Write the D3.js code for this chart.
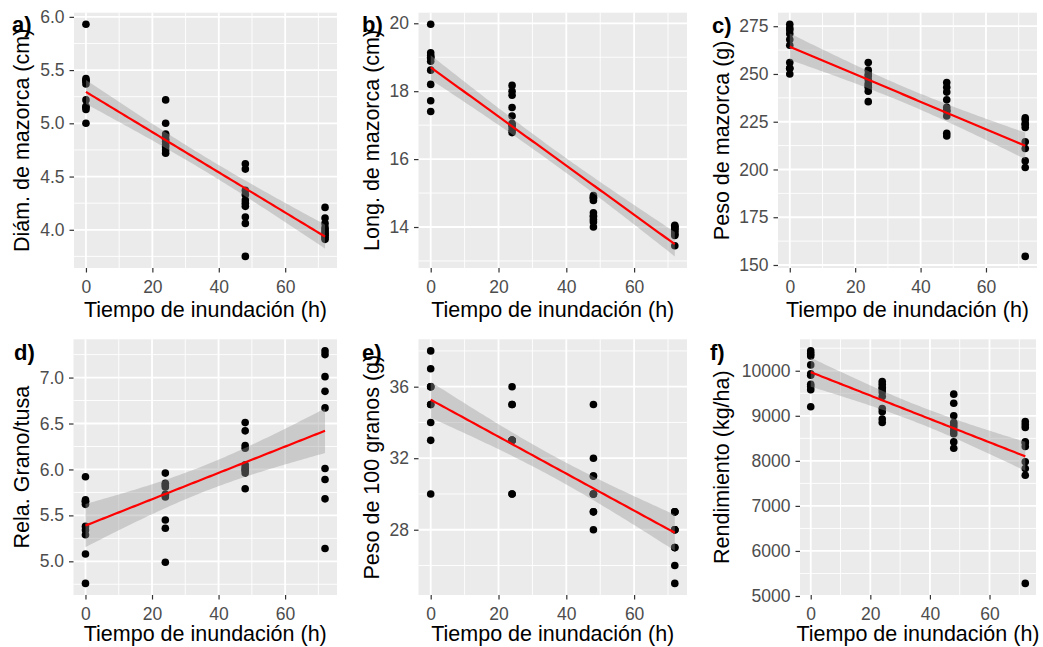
<!DOCTYPE html>
<html><head><meta charset="utf-8">
<script src="https://cdn.jsdelivr.net/npm/d3@7"></script>
<style>
body{margin:0;background:#fff;}
svg{display:block;font-family:"Liberation Sans",Arial,sans-serif;}
</style>
</head><body>
<svg id="chart" width="1043" height="647"></svg>
<script>
// ---------- data ----------
const hours = [0, 24, 48, 72];
const xTicks = [0, 20, 40, 60];
const xTitle = "Tiempo de inundación (h)";

const tags = ["a)", "b)", "c)", "d)", "e)", "f)"];
const yTitles = ["Diám. de mazorca (cm)", "Long. de mazorca (cm)", "Peso de mazorca (g)",
                 "Rela. Grano/tusa", "Peso de 100 granos (g)", "Rendimiento (kg/ha)"];

const diamMazorca = [
  [5.93, 5.42, 5.40, 5.40, 5.37, 5.22, 5.16, 5.15, 5.13, 5.00],
  [5.22, 5.00, 4.90, 4.88, 4.85, 4.83, 4.80, 4.78, 4.75, 4.72],
  [4.62, 4.57, 4.37, 4.33, 4.28, 4.25, 4.22, 4.12, 4.06, 3.75],
  [4.21, 4.11, 4.06, 4.02, 4.00, 3.98, 3.96, 3.95, 3.93, 3.91]
];
const longMazorca = [
  [19.97, 19.13, 19.05, 19.00, 18.98, 18.88, 18.62, 18.20, 17.72, 17.40],
  [18.17, 18.00, 17.88, 17.52, 17.27, 17.05, 17.00, 16.95, 16.85, 16.78],
  [14.93, 14.88, 14.85, 14.78, 14.42, 14.33, 14.30, 14.22, 14.15, 14.00],
  [14.05, 14.02, 13.98, 13.97, 13.92, 13.88, 13.82, 13.78, 13.75, 13.45]
];
const pesoMazorca = [
  [276, 274, 273, 271, 268, 265, 256, 253, 253, 250],
  [256, 252, 250, 249, 247, 245, 244, 243, 241, 235.5],
  [245.5, 243, 240.5, 236.5, 232.5, 231, 230.5, 228, 219, 217.5],
  [227, 226, 224, 223.5, 222, 214.5, 211, 204.5, 201, 154.5]
];
const relaGranoTusa = [
  [5.92, 5.67, 5.65, 5.65, 5.62, 5.38, 5.34, 5.29, 5.08, 4.76],
  [5.96, 5.85, 5.83, 5.81, 5.73, 5.72, 5.70, 5.45, 5.36, 4.99],
  [6.51, 6.42, 6.26, 6.23, 6.05, 6.02, 6.00, 5.99, 5.96, 5.79],
  [7.29, 7.25, 7.01, 6.85, 6.67, 6.01, 5.89, 5.68, 5.14]
];
const peso100Granos = [
  [38, 37, 36, 36, 36, 35, 35, 34, 33, 30],
  [36, 35, 35, 33, 33, 33, 33, 33, 30, 30],
  [35, 32, 31, 31, 30, 30, 30, 29, 29, 28],
  [29, 29, 29, 28, 28, 28, 27, 27, 26, 25]
];
const rendimiento = [
  [10440, 10380, 10330, 10130, 9930, 9900, 9700, 9650, 9580, 9200],
  [9760, 9700, 9630, 9600, 9530, 9430, 9160, 9090, 8930, 8850],
  [9480, 9280, 9000, 8850, 8800, 8750, 8670, 8600, 8420, 8280],
  [8870, 8800, 8740, 8420, 8400, 8320, 7980, 7830, 7680, 5280]
];

const yTicksA = [4.0, 4.5, 5.0, 5.5, 6.0];
const yTicksB = [14, 16, 18, 20];
const yTicksC = [150, 175, 200, 225, 250, 275];
const yTicksD = [5.0, 5.5, 6.0, 6.5, 7.0];
const yTicksE = [28, 32, 36];
const yTicksF = [5000, 6000, 7000, 8000, 9000, 10000];

const seriesList = [diamMazorca, longMazorca, pesoMazorca, relaGranoTusa, peso100Granos, rendimiento];
const tickList = [yTicksA, yTicksB, yTicksC, yTicksD, yTicksE, yTicksF];
const fmtList = [".1f", "d", "d", ".1f", "d", "d"];

// ---------- layout (positions only) ----------
const layout = [
  {box: [74, 12.7, 337, 268],     titleX: 29,    tagX: 12,  tagY: 32,  xTitleY: 316.7},
  {box: [418.5, 12.7, 687, 268],  titleX: 378.5, tagX: 362, tagY: 32,  xTitleY: 316.7},
  {box: [778, 12.7, 1037, 268],   titleX: 728.5, tagX: 712, tagY: 33,  xTitleY: 316.7},
  {box: [73.5, 339.3, 337, 595],  titleX: 29,    tagX: 14,  tagY: 360, xTitleY: 641},
  {box: [418.5, 339.3, 687, 595], titleX: 378.5, tagX: 362, tagY: 360, xTitleY: 641},
  {box: [800, 339.3, 1036, 595],  titleX: 729,   tagX: 710, tagY: 360, xTitleY: 641}
];

const svg = d3.select("#chart");
svg.append("rect").attr("width", 1043).attr("height", 647).attr("fill", "#fff");

function lmBand(xs, ys) {
  const n = xs.length, mx = d3.mean(xs), my = d3.mean(ys);
  let sxx = 0, sxy = 0;
  for (let i = 0; i < n; i++) { sxx += (xs[i] - mx) ** 2; sxy += (xs[i] - mx) * (ys[i] - my); }
  const b = sxy / sxx, a = my - b * mx;
  let sse = 0;
  for (let i = 0; i < n; i++) sse += (ys[i] - a - b * xs[i]) ** 2;
  const df = n - 2, s = Math.sqrt(sse / df), z = 1.959964;
  const t = z + (z ** 3 + z) / (4 * df) + (5 * z ** 5 + 16 * z ** 3 + 3 * z) / (96 * df * df);
  const x0 = d3.min(xs), x1 = d3.max(xs);
  return d3.range(80).map(i => {
    const x = x0 + (x1 - x0) * i / 79;
    const yh = a + b * x;
    const se = s * Math.sqrt(1 / n + (x - mx) ** 2 / sxx);
    return {x, y: yh, lo: yh - t * se, hi: yh + t * se};
  });
}

seriesList.forEach((groups, pi) => {
  const L = layout[pi];
  const [left, top, right, bottom] = L.box;
  const pts = [];
  groups.forEach((vals, gi) => vals.forEach(v => pts.push({x: hours[gi], y: v})));
  const band = lmBand(pts.map(d => d.x), pts.map(d => d.y));

  const xr = d3.extent(pts, d => d.x);
  const xpad = (xr[1] - xr[0]) * 0.05;
  const x = d3.scaleLinear().domain([xr[0] - xpad, xr[1] + xpad]).range([left, right]);

  const ymin = Math.min(d3.min(pts, d => d.y), d3.min(band, d => d.lo));
  const ymax = Math.max(d3.max(pts, d => d.y), d3.max(band, d => d.hi));
  const ypad = (ymax - ymin) * 0.05;
  const y = d3.scaleLinear().domain([ymin - ypad, ymax + ypad]).range([bottom, top]);

  const g = svg.append("g");
  g.append("rect").attr("x", left).attr("y", top).attr("width", right - left)
    .attr("height", bottom - top).attr("fill", "#EBEBEB");

  const yt = tickList[pi];
  const step = yt[1] - yt[0];
  const yDom = y.domain();
  const yMinor = [yt[0] - step / 2].concat(yt.map(v => v + step / 2)).filter(v => v > yDom[0] && v < yDom[1]);
  const xMinor = [xTicks[0] - 10].concat(xTicks.map(v => v + 10)).filter(v => v > x.domain()[0] && v < x.domain()[1]);

  g.selectAll(".ymin").data(yMinor).join("line")
    .attr("x1", left).attr("x2", right).attr("y1", d => y(d)).attr("y2", d => y(d))
    .attr("stroke", "#fff").attr("stroke-width", 0.9);
  g.selectAll(".xmin").data(xMinor).join("line")
    .attr("y1", top).attr("y2", bottom).attr("x1", d => x(d)).attr("x2", d => x(d))
    .attr("stroke", "#fff").attr("stroke-width", 0.9);
  g.selectAll(".ymaj").data(yt).join("line")
    .attr("x1", left).attr("x2", right).attr("y1", d => y(d)).attr("y2", d => y(d))
    .attr("stroke", "#fff").attr("stroke-width", 1.8);
  g.selectAll(".xmaj").data(xTicks).join("line")
    .attr("y1", top).attr("y2", bottom).attr("x1", d => x(d)).attr("x2", d => x(d))
    .attr("stroke", "#fff").attr("stroke-width", 1.8);

  // points
  g.selectAll(".pt").data(pts).join("circle")
    .attr("cx", d => x(d.x)).attr("cy", d => y(d.y)).attr("r", 3.8).attr("fill", "#000");

  // ribbon
  g.append("path").datum(band)
    .attr("d", d3.area().x(d => x(d.x)).y0(d => y(d.lo)).y1(d => y(d.hi)))
    .attr("fill", "#999999").attr("fill-opacity", 0.4);
  // fit line
  g.append("path").datum(band)
    .attr("d", d3.line().x(d => x(d.x)).y(d => y(d.y)))
    .attr("fill", "none").attr("stroke", "#FF0000").attr("stroke-width", 2.2);

  // axes
  const ax = g.append("g").attr("transform", `translate(${left},0)`)
    .call(d3.axisLeft(y).tickValues(yt).tickSize(4.5).tickPadding(5).tickFormat(d3.format(fmtList[pi])));
  const bx = g.append("g").attr("transform", `translate(0,${bottom})`)
    .call(d3.axisBottom(x).tickValues(xTicks).tickSize(4.5).tickPadding(8).tickFormat(d3.format("d")));
  [ax, bx].forEach(a => {
    a.select(".domain").remove();
    a.selectAll("line").attr("stroke", "#333333").attr("stroke-width", 1.2);
    a.selectAll("text").attr("fill", "#4D4D4D").attr("font-size", "17.5px")
      .attr("font-family", '"Liberation Sans",Arial,sans-serif');
  });

  // titles
  g.append("text").attr("x", (left + right) / 2).attr("y", L.xTitleY)
    .attr("text-anchor", "middle").attr("font-size", "21.5px").attr("fill", "#000").text(xTitle);
  const cy = (top + bottom) / 2;
  g.append("text").attr("transform", `translate(${L.titleX},${cy}) rotate(-90)`)
    .attr("text-anchor", "middle").attr("font-size", "21.5px").attr("fill", "#000").text(yTitles[pi]);
  // tag
  g.append("text").attr("x", L.tagX).attr("y", L.tagY)
    .attr("font-size", "22px").attr("font-weight", "bold").attr("fill", "#000").text(tags[pi]);
});
</script>
</body></html>
